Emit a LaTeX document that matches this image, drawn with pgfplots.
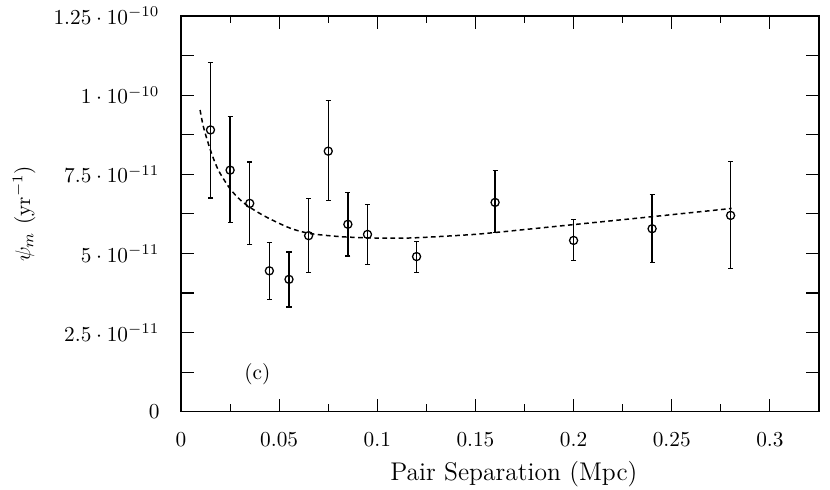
\documentclass[border=0pt]{standalone}
\usepackage{pgfplots}
\usepackage{pgfplotstable}
\pgfplotsset{compat=1.18}
\pgfplotstableread{
x     y        ep       em
0.015 8.90e-11 2.14e-11 2.15e-11
0.025 7.63e-11 1.69e-11 1.66e-11
0.035 6.58e-11 1.31e-11 1.31e-11
0.045 4.45e-11 0.90e-11 0.90e-11
0.055 4.18e-11 0.86e-11 0.87e-11
0.065 5.56e-11 1.17e-11 1.16e-11
0.075 8.23e-11 1.59e-11 1.55e-11
0.085 5.92e-11 1.00e-11 1.00e-11
0.095 5.60e-11 0.95e-11 0.94e-11
0.12  4.90e-11 0.47e-11 0.50e-11
0.16  6.61e-11 1.00e-11 0.96e-11
0.20  5.41e-11 0.65e-11 0.64e-11
0.24  5.78e-11 1.09e-11 1.07e-11
0.28  6.20e-11 1.70e-11 1.67e-11
}\datatable
\begin{document}
\begin{tikzpicture}
\path[use as bounding box] (-85.0pt,-36.3pt) rectangle (304.7pt,193.3pt);
\begin{axis}[
  at={(0pt,0pt)}, anchor=south west,
  scale only axis,
  width=299.5pt, height=185.8pt,
  xmin=0, xmax=0.325, ymin=0, ymax=1.25e-10,
  xtick={0,0.05,0.1,0.15,0.2,0.25,0.3},
  minor xtick={0.025,0.075,0.125,0.175,0.225,0.275},
  xticklabels={$0$,$0.05$,$0.1$,$0.15$,$0.2$,$0.25$,$0.3$},
  ytick={0,1.25e-11,2.5e-11,3.75e-11,5e-11,6.25e-11,7.5e-11,8.75e-11,1e-10,1.125e-10,1.25e-10},
  yticklabels={$0$,,$2.5\cdot 10^{-11}$,,$5\cdot 10^{-11}$,,$7.5\cdot 10^{-11}$,,$1\cdot 10^{-10}$,,$1.25\cdot 10^{-10}$},
  scaled ticks=false,
  major tick length=6pt, minor tick length=3.4pt,
  tick style={black, line width=0.5pt},
  axis line style={black, line width=0.6pt},
  yticklabel style={xshift=-6.6pt},
  xticklabel style={yshift=-6.2pt},
  xlabel={Pair Separation (Mpc)},
  xlabel style={at={(axis description cs:0.5217,-0.159)}, anchor=center, font=\large},
  ylabel={$\psi_m$ (yr$^{-1}$)},
  ylabel style={at={(axis description cs:-0.246,0.5)}, anchor=center},
  clip=false,
]
\addplot[black, line width=0.7pt, dash pattern=on 2.2pt off 1.6pt, smooth] coordinates {
(0.0097,9.53e-11) (0.0114,9.00e-11) (0.0144,8.37e-11) (0.0173,7.87e-11)
(0.0199,7.53e-11) (0.025,7.04e-11) (0.030,6.70e-11) (0.0352,6.45e-11)
(0.0437,6.14e-11) (0.0555,5.80e-11) (0.0657,5.63e-11) (0.081,5.53e-11)
(0.0963,5.49e-11) (0.11,5.48e-11) (0.1218,5.50e-11) (0.147,5.59e-11)
(0.16,5.66e-11) (0.2,5.91e-11) (0.24,6.16e-11) (0.2805,6.42e-11)
};
\addplot[black, only marks, mark=o, mark size=1.9pt, mark options={line width=0.6pt},
  error bars/.cd, y dir=both, y explicit,
  error bar style={line width=0.6pt, black},
  error mark options={black, rotate=90, mark size=1.2pt, line width=0.6pt}]
  table[x=x, y=y, y error plus=ep, y error minus=em] {\datatable};
\node at (axis cs:0.0389,1.19e-11) {(c)};
\end{axis}
\end{tikzpicture}
\end{document}
